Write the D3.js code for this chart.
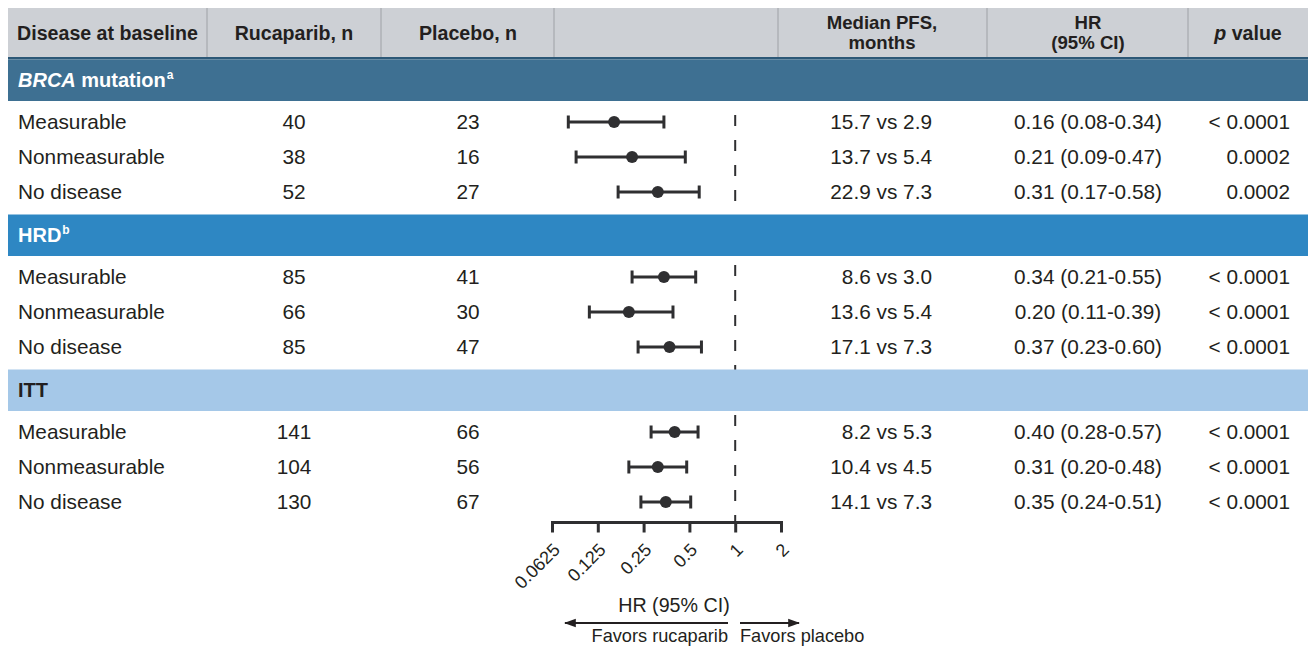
<!DOCTYPE html>
<html><head><meta charset="utf-8">
<script src="https://cdn.jsdelivr.net/npm/d3@7"></script>
<style>
body{margin:0;background:#fff;}
svg text{font-family:"Liberation Sans",Arial,Helvetica,sans-serif;fill:#231f20;}
</style></head>
<body><svg id="c" width="1309" height="648"></svg>
<script>
// ---- data ----
const sections = ["BRCA mutation", "HRD", "ITT"];
const sectionSup = ["a", "b", ""];
const subgroups = ["Measurable", "Nonmeasurable", "No disease"];
const rucaparibN = [[40, 38, 52], [85, 66, 85], [141, 104, 130]];
const placeboN = [[23, 16, 27], [41, 30, 47], [66, 56, 67]];
const medianRuc = [["15.7", "13.7", "22.9"], ["8.6", "13.6", "17.1"], ["8.2", "10.4", "14.1"]];
const medianPbo = [["2.9", "5.4", "7.3"], ["3.0", "5.4", "7.3"], ["5.3", "4.5", "7.3"]];
const hr = [[0.16, 0.21, 0.31], [0.34, 0.20, 0.37], [0.40, 0.31, 0.35]];
const hrLow = [[0.08, 0.09, 0.17], [0.21, 0.11, 0.23], [0.28, 0.20, 0.24]];
const hrHigh = [[0.34, 0.47, 0.58], [0.55, 0.39, 0.60], [0.57, 0.48, 0.51]];
const pValues = [["< 0.0001", "0.0002", "0.0002"], ["< 0.0001", "< 0.0001", "< 0.0001"], ["< 0.0001", "< 0.0001", "< 0.0001"]];
const axisTicks = [0.0625, 0.125, 0.25, 0.5, 1, 2];
const tickLabels = ["0.0625", "0.125", "0.25", "0.5", "1", "2"];
const headers = [["Disease at baseline"], ["Rucaparib, n"], ["Placebo, n"], [], ["Median PFS,", "months"], ["HR", "(95% CI)"], ["p value"]];

// ---- layout ----
const svg = d3.select("#c");
const W = 1309, left = 8;
const colEdges = [8, 207, 381, 554, 778, 987, 1188, 1308];
const sectionFill = ["#3e7092", "#2e87c3", "#a5c8e8"];
const sectionText = ["#ffffff", "#ffffff", "#231f20"];
const headTop = 8, headBottom = 58;
const barH = 41.5, rowH = 35, padTop = 3.5, padBot = 5;
const period = barH + padTop + rowH * 3 + padBot;
const firstBar = 59.5;
const x = d3.scaleLog().base(2).domain([0.0625, 2]).range([552, 781]);
const fs = 20.8;
const markColor = "#2f2f31";

// header
svg.append("rect").attr("x", left).attr("y", headTop).attr("width", W - 1 - left).attr("height", headBottom - headTop).attr("fill", "#cdd0d5");
svg.selectAll(".hdiv").data(colEdges.slice(1, -1)).join("line")
  .attr("x1", d => d).attr("x2", d => d).attr("y1", headTop).attr("y2", headBottom)
  .attr("stroke", "#9ea1a6").attr("stroke-width", 1);
svg.append("rect").attr("x", left).attr("y", headBottom - 1).attr("width", W - 1 - left).attr("height", 2.5).attr("fill", "#2c5877");
const hCenters = [107.5, 294, 468, 666, 882, 1088, 1248];
headers.forEach((lines, i) => {
  lines.forEach((t, j) => {
    const multi = lines.length > 1;
    const yy = multi ? 29 + j * 20 : 39.5;
    const tx = svg.append("text").attr("x", hCenters[i]).attr("y", yy)
      .attr("text-anchor", "middle").attr("font-weight", "bold").attr("font-size", multi ? 18.6 : 19.6);
    if (t === "p value") {
      tx.append("tspan").attr("font-style", "italic").text("p");
      tx.append("tspan").text(" value");
    } else tx.text(t);
  });
});

const rowsAll = [];
sections.forEach((s, si) => {
  const top = firstBar + si * period;
  subgroups.forEach((g, ri) => rowsAll.push({
    g, si, ri, y: top + barH + padTop + rowH * ri + rowH / 2,
    ruc: rucaparibN[si][ri], pbo: placeboN[si][ri],
    med: medianRuc[si][ri] + " vs " + medianPbo[si][ri],
    hr: hr[si][ri], lo: hrLow[si][ri], hi: hrHigh[si][ri], p: pValues[si][ri]
  }));
});

// reference line (drawn first, section bars cover it)
const axisY = 522.5;
svg.append("line").attr("x1", x(1)).attr("x2", x(1)).attr("y1", 65).attr("y2", axisY)
  .attr("stroke", markColor).attr("stroke-width", 2).attr("stroke-dasharray", "11,14");

// section bars
sections.forEach((s, si) => {
  const top = firstBar + si * period;
  svg.append("rect").attr("x", left).attr("y", top).attr("width", W - 1 - left).attr("height", barH).attr("fill", sectionFill[si]);
  const t = svg.append("text").attr("x", 18).attr("y", top + barH / 2).attr("dy", "0.36em")
    .attr("font-weight", "bold").attr("font-size", 20).style("fill", sectionText[si]);
  if (s.startsWith("BRCA")) {
    t.append("tspan").attr("font-style", "italic").text("BRCA");
    t.append("tspan").text(" mutation");
  } else t.append("tspan").text(s);
  if (sectionSup[si]) t.append("tspan").attr("font-size", 12).attr("dy", "-0.7em").attr("dx", 1).text(sectionSup[si]);
});

// table texts
const g = svg.append("g");
const txt = (xv, anchor, f) => g.append("g").selectAll("text").data(rowsAll).join("text")
  .attr("x", xv).attr("y", d => d.y).attr("dy", "0.36em").attr("text-anchor", anchor)
  .attr("font-size", fs).text(f);
txt(18, "start", d => d.g);
txt(294, "middle", d => d.ruc);
txt(468, "middle", d => d.pbo);
txt(932, "end", d => d.med);
txt(1088, "middle", d => d.hr.toFixed(2) + " (" + d.lo.toFixed(2) + "-" + d.hi.toFixed(2) + ")");
txt(1290, "end", d => d.p);

// forest marks
g.append("g").selectAll("line").data(rowsAll).join("line")
  .attr("x1", d => x(d.lo)).attr("x2", d => x(d.hi)).attr("y1", d => d.y).attr("y2", d => d.y)
  .attr("stroke", markColor).attr("stroke-width", 3);
["lo", "hi"].forEach(k => {
  g.append("g").selectAll("line").data(rowsAll).join("line")
    .attr("x1", d => x(d[k])).attr("x2", d => x(d[k])).attr("y1", d => d.y - 6.5).attr("y2", d => d.y + 6.5)
    .attr("stroke", markColor).attr("stroke-width", 3);
});
g.append("g").selectAll("circle").data(rowsAll).join("circle")
  .attr("cx", d => x(d.hr)).attr("cy", d => d.y).attr("r", 6).attr("fill", markColor);

// axis
const ax = svg.append("g").attr("transform", `translate(0,${axisY})`)
  .call(d3.axisBottom(x).tickValues(axisTicks).tickFormat((d, i) => tickLabels[i]).tickSize(10).tickSizeOuter(0));
ax.select(".domain").attr("stroke", markColor).attr("stroke-width", 3).attr("d", `M${x(0.0625)},0H${x(2)}`);
ax.selectAll(".tick line").attr("stroke", markColor).attr("stroke-width", 3).attr("y1", -1.5);
ax.selectAll(".tick text").attr("font-size", 18).attr("font-family", "Liberation Sans, Arial, sans-serif")
  .style("fill", "#231f20").attr("text-anchor", "end").attr("dy", "0.35em")
  .attr("transform", "translate(4,24) rotate(-45)").attr("y", 0).attr("x", 0);

svg.append("text").attr("x", 674).attr("y", 612).attr("text-anchor", "middle").attr("font-size", 19.7).text("HR (95% CI)");
const defs = svg.append("defs");
defs.append("marker").attr("id", "ah").attr("viewBox", "0 0 10 10").attr("refX", 9).attr("refY", 5)
  .attr("markerWidth", 12).attr("markerHeight", 12).attr("markerUnits", "userSpaceOnUse").attr("orient", "auto")
  .append("path").attr("d", "M0,1.5L10,5L0,8.5Z").attr("fill", "#231f20");
svg.append("line").attr("x1", 728).attr("x2", 565).attr("y1", 623).attr("y2", 623)
  .attr("stroke", "#231f20").attr("stroke-width", 2).attr("marker-end", "url(#ah)");
svg.append("line").attr("x1", 740).attr("x2", 799).attr("y1", 623).attr("y2", 623)
  .attr("stroke", "#231f20").attr("stroke-width", 2).attr("marker-end", "url(#ah)");
svg.append("text").attr("x", 728).attr("y", 642).attr("text-anchor", "end").attr("font-size", 18.2).text("Favors rucaparib");
svg.append("text").attr("x", 740).attr("y", 642).attr("text-anchor", "start").attr("font-size", 18.2).text("Favors placebo");
</script></body></html>
